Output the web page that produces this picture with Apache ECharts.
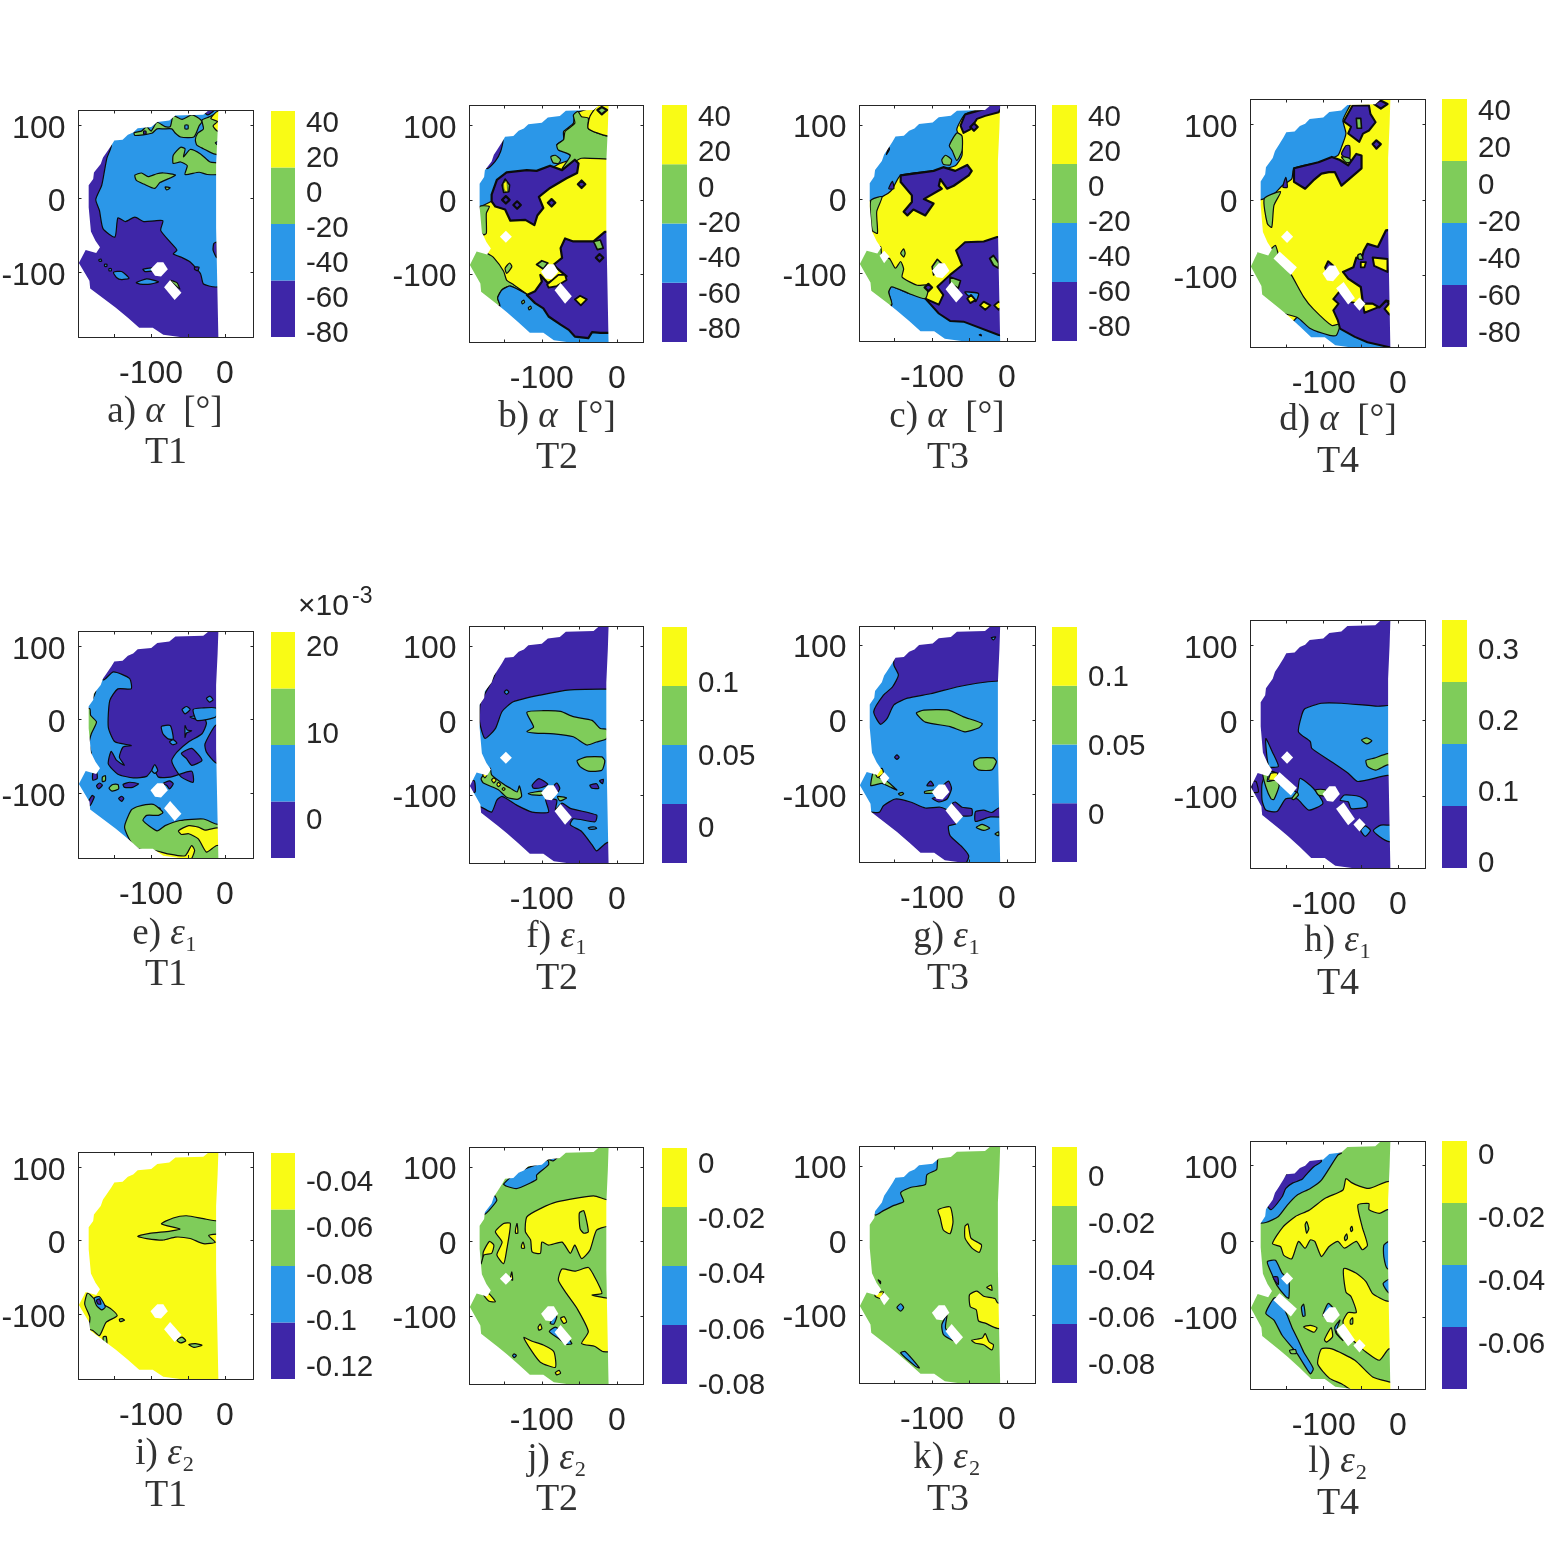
<!DOCTYPE html>
<html><head><meta charset="utf-8">
<style>html,body{margin:0;background:#fff}#c{width:1563px;height:1563px}</style>
<script src="https://cdn.jsdelivr.net/npm/echarts@6/dist/echarts.min.js"></script></head>
<body><div id="c"></div><script>
const P=0,B=1,G=2,Y=3;
const levelColors=['#3E26A8','#2B97E8','#7FCC5A','#F9FB15'];
const xTicks=[-150,-100,-50,0], xLabels=[-100,0], yTicks=[-100,0,100];

// limb of the measured field, degrees
const outlineLimb=[-11,127,-24,127,-31,121,-68,120,-76,113,-92,111,-100,104,-118,102,-124,96,-131,93,-138,86,-149,85,-153,78,-160,67,-164,61,-167,52,-176,40,-177,31,-183,22,-183,-9,-180,-43,-174,-56,-168,-65,-173,-73,-187,-69,-196,-87,-182,-112,-181,-123,-158,-141,-147,-150,-131,-164,-116,-178,-98,-178,-84,-188,-62,-191,-11,-191,-14,-38,-14,52,-12,96];
// data gaps, degrees
const gapHex=[-101,-96,-92,-86,-84,-86,-78,-96,-87,-106,-95,-105];
const gapRect=[-83,-121,-75,-111,-60,-129,-69,-139];
const gapRectLong=[-83,-115,-73,-107,-58,-128,-67,-136];
const gapDiamond=[-156,-49,-148,-41,-140,-49,-148,-57];
const gapNotch=[-170,-76,-164,-69,-157,-77,-164,-86];
const gapLeftLong=[-166,-77,-158,-68,-135,-88,-143,-98];
const gapSmall=[-60,-135,-52,-127,-44,-135,-52,-144];

const regionsA=[
[P,[-154,75,-160,55,-163,39,-167,18,-175,-1,-170,-16,-165,-41,-149,-52,-145,-26,-135,-31,-122,-25,-110,-31,-95,-30,-84,-30,-87,-43,-74,-59,-65,-70,-70,-75,-58,-80,-47,-86,-33,-102,-29,-116,-13,-120,21,-120,21,-200,-205,-200,-205,75]],
[B,[-151,-100,-140,-99,-130,-108,-140,-110,-147,-107]],
[B,[-120,-114,-106,-109,-90,-113,-101,-116,-115,-116]],
[B,[-111,-96,-99,-94,-98,-98,-108,-99]],
[B,[-171,-83,-168,-82,-167,-85,-170,-85]],
[B,[-163,-89,-160,-89,-160,-92,-163,-92]],
[B,[-157,-95,-154,-95,-154,-98,-157,-98]],
[P,[-41,-93,-35,-93,-37,-98,-41,-96]],
[P,[-15,-61,-11,-59,-11,-80,-16,-70]],
[G,[-122,32,-113,35,-104,30,-92,34,-83,35,-67,32,-88,22,-95,14,-110,20,-120,25]],
[G,[-81,16,-74,15,-79,12]],
[G,[-70,59,-60,70,-54,68,-56,57,-47,67,-33,61,-20,50,-6,48,-6,34,-24,33,-35,36,-54,33,-51,45,-60,50,-70,48]],
[G,[-123,90,-113,92,-106,98,-100,92,-92,104,-81,98,-74,98,-70,113,-58,108,-45,114,-38,111,-31,105,-35,99,-42,84,-60,84,-67,89,-72,95,-83,95,-92,95,-99,89,-122,86]],
[G,[-40,80,-37,89,-29,95,-31,107,-22,111,-10,116,8,116,8,59,-15,61,-29,68,-38,73]],
[B,[-13,76,-9,78,-9,73]],
[B,[-54,100,-50,100,-50,95,-54,95]],
[P,[-110,92,-107,92,-107,88,-110,88]],
[Y,[-19,109,-10,119,8,119,8,92,-10,92,-16,99,-10,105]],
[P,[-29,119,-15,120,-23,114]],
[G,[-74,-111,-65,-114,-61,-123,-68,-117]]];

const regionsB=[
[B,[-196,-13,-182,-9,-167,-2,-76,49,-58,56,-80,74,-71,81,-71,92,-58,103,-56,116,-38,123,-31,132,-76,141,-209,141,-209,-13]],
[P,[-152,81,-155,65,-162,52,-173,42,-182,52,-164,78]],
[G,[-58,114,-52,119,-47,112,-38,110,-38,96,-13,86,13,86,13,56,-47,56,-60,49,-73,42,-62,60,-78,67,-80,74,-71,81,-69,92,-56,103]],
[Y,[-36,112,-29,123,-24,130,13,130,13,86,-13,86,-38,96]],
[G,[-26,121,-20,125,-13,121,-20,115],2.2],
[G,[-88,58,-82,60,-75,54,-78,49,-85,50]],
[P,[-167,-2,-167,7,-160,27,-147,37,-120,40,-107,39,-89,46,-73,40,-56,54,-51,49,-53,36,-67,29,-89,16,-104,4,-98,-11,-106,-21,-110,-34,-122,-27,-142,-28,-149,-13,-162,-9],2.2],
[G,[-153,20,-149,28,-143,20,-144,11,-151,10],1.6],
[Y,[-151,22,-147,25,-146,11,-150,13],0.5],
[P,[-153,0,-148,5,-143,0,-148,-5],2.2],
[P,[-138,-7,-133,-2,-128,-7,-133,-12],2.2],
[P,[-92,-4,-87,1,-82,-4,-87,-9],2.2],
[P,[-52,21,-47,26,-42,21,-47,16],2.2],
[G,[-183,-9,-170,-9,-174,-18,-174,-45,-178,-47,-186,-38]],
[G,[-209,-87,-187,-65,-173,-72,-164,-78,-151,-96,-147,-108,-138,-114,-120,-127,-142,-116,-153,-121,-159,-132,-156,-142,-182,-146,-209,-128]],
[G,[-149,-92,-143,-85,-140,-90,-147,-99]],
[B,[-156,-142,-159,-132,-153,-121,-142,-116,-120,-127,-118,-130,-75,-160,-58,-170,13,-170,13,-208,-75,-208,-164,-208]],
[P,[-120,-128,-109,-123,-100,-110,-102,-101,-92,-112,-71,-101,-67,-103,-80,-92,-84,-87,-73,-78,-75,-65,-69,-52,-58,-56,-31,-56,-16,-43,13,-43,13,-181,-11,-179,-22,-179,-33,-178,-38,-186,-56,-184,-64,-175,-75,-168,-91,-157,-98,-146,-109,-139],2.2],
[Y,[-93,-114,-78,-101,-69,-101,-67,-108,-80,-116,-91,-118],1.8],
[G,[-31,-56,-22,-54,-18,-65,-26,-67],1.6],
[Y,[-56,-134,-49,-129,-40,-134,-48,-142],1.8],
[G,[-107,-87,-100,-82,-92,-85,-98,-93],1.8],
[P,[-28,-78,-23,-73,-18,-78,-23,-83],2.2],
[G,[-127,-137,-124,-135,-123,-138,-126,-140]],
[G,[-118,-145,-115,-143,-114,-146,-117,-148]]];

const regionsC=[
[B,[-209,-4,-182,-2,-167,3,-154,12,-142,32,-98,38,-69,45,-60,59,-62,81,-67,94,-56,114,-31,123,-22,130,-76,139,-209,139]],
[P,[-62,99,-56,114,-31,121,-22,128,-4,128,-11,117,-29,112,-40,108,-49,94,-58,89],2],
[P,[-49,97,-44,102,-39,97,-44,92],2.2],
[G,[-77,72,-67,89,-60,85,-60,65,-67,52,-73,65]],
[G,[-87,53,-82,59,-74,53,-76,46,-85,47]],
[P,[-157,67,-161,60,-158,70]],
[P,[-142,32,-98,38,-85,43,-69,38,-53,46,-47,38,-51,32,-71,18,-80,14,-89,27,-91,18,-87,14,-111,0,-98,-6,-109,-22,-125,-14,-133,-22,-138,-17,-127,-4,-127,5,-142,23],2.2],
[P,[-158,14,-153,24,-151,14]],
[G,[-182,-2,-167,3,-174,-17,-173,-46,-180,-42]],
[B,[-154,-142,-158,-125,-154,-118,-131,-127,-109,-134,-76,-158,-11,-172,-4,-172,-4,-201,-76,-210,-165,-210]],
[G,[-209,-87,-187,-67,-169,-64,-167,-78,-157,-80,-149,-93,-142,-84,-138,-94,-140,-105,-120,-116,-105,-116,-109,-134,-131,-127,-154,-118,-158,-125,-154,-142,-182,-147,-209,-129]],
[G,[-142,-73,-138,-67,-136,-73,-138,-78]],
[P,[-109,-134,-91,-142,-85,-129,-93,-118,-76,-102,-60,-89,-68,-69,-56,-58,-31,-57,-13,-51,0,-51,0,-185,-11,-183,-58,-165,-76,-164,-91,-154],2],
[G,[-23,-80,-18,-76,-11,-86,-11,-93,-18,-89],1.8],
[B,[-56,-125,-38,-127,-42,-138,-53,-129],1.4],
[Y,[-53,-134,-48,-129,-42,-136,-49,-140],1.8],
[Y,[-36,-143,-31,-138,-22,-143,-29,-149],1.8],
[Y,[-17,-143,-11,-138,-4,-143,-11,-149],1.8],
[G,[-76,-105,-62,-110,-65,-120,-76,-113],1.6],
[P,[-110,-119,-105,-114,-100,-119,-105,-124],2.2],
[G,[-100,-91,-93,-81,-85,-89,-98,-102],1.6],
[P,[-37,-183,-35,-182,-34,-184]]];

const regionsD=[
[B,[-209,-3,-180,2,-167,8,-156,19,-143,28,-140,42,-107,50,-81,59,-76,70,-70,88,-74,106,-63,128,-58,141,-209,145]],
[P,[-61,125,-39,125,-37,114,-30,103,-39,92,-47,88,-52,77,-67,88,-63,97,-73,104],2],
[G,[-56,108,-50,108,-49,95,-55,95],1.6],
[P,[-32,127,-24,132,-14,127,-23,121],2.2],
[P,[-34,74,-29,79,-23,74,-29,68],2.2],
[P,[-76,61,-70,72,-65,72,-65,55,-72,57]],
[G,[-76,57,-70,50,-63,50,-65,55,-72,57]],
[P,[-140,42,-107,50,-89,57,-78,53,-67,46,-56,61,-49,59,-49,42,-76,19,-85,37,-93,37,-103,35,-114,26,-125,15,-140,24],2.2],
[P,[-155,17,-151,30,-149,17]],
[G,[-180,2,-158,11,-167,-7,-170,-36,-176,-31]],
[B,[-136,-155,-118,-168,-85,-172,-78,-165,-5,-165,-5,-210,-165,-210]],
[G,[-209,-84,-187,-67,-174,-67,-165,-60,-160,-75,-143,-100,-127,-128,-114,-144,-89,-166,-78,-164,-83,-179,-92,-179,-118,-170,-136,-155,-184,-142,-209,-120]],
[P,[-87,-146,-80,-137,-87,-131,-78,-120,-63,-135,-47,-138,-45,-149,-27,-142,-16,-133,-12,-137,-18,-144,-12,-151,-5,-155,-5,-197,-10,-195,-41,-188,-58,-181,-78,-170,-81,-159],2],
[P,[-74,-95,-60,-89,-56,-76,-49,-78,-46,-67,-41,-58,-27,-62,-16,-40,0,-38,0,-137,-16,-133,-25,-142,-34,-137,-47,-137,-50,-115,-67,-104],2.2],
[Y,[-34,-76,-14,-78,-14,-95,-32,-87],2],
[G,[-54,-73,-50,-71,-47,-78,-53,-78],1.4],
[Y,[-50,-82,-43,-82,-45,-89,-50,-89],1.8],
[P,[-98,-89,-94,-81,-87,-87,-96,-95],2]];

const regionsE=[
[P,[-151,65,-129,56,-127,42,-145,42,-156,26,-158,-10,-149,-30,-127,-35,-138,-37,-143,-51,-136,-62,-147,-55,-154,-43,-158,-60,-145,-74,-124,-79,-106,-77,-97,-67,-90,-78,-74,-78,-45,-70,-43,-85,-59,-78,-69,-64,-72,-55,-65,-44,-49,-30,-31,-19,-25,-5,-29,4,-36,0,-47,4,-12,10,16,17,16,135,-152,135,-170,81,-165,54]],
[B,[-43,14,-31,16,-12,16,-12,4,-38,-1]],
[B,[-58,14,-52,18,-47,14,-54,8]],
[B,[-86,-9,-74,-8,-70,-26,-77,-26,-84,-19]],
[B,[-75,-30,-70,-27,-65,-32,-71,-34]],
[B,[-25,29,-20,32,-16,27,-21,24]],
[B,[-99,-69,-95,-61,-91,-69,-95,-73]],
[B,[-54,-23,-54,-8,-51,-14,-45,-15,-52,-18,-54,-24]],
[P,[-59,-46,-45,-39,-31,-55,-45,-62,-52,-53]],
[P,[-27,-33,-13,-8,-1,-5,-1,-60,-13,-58,-25,-44]],
[G,[-197,15,-183,15,-182,6,-174,-3,-181,-19,-184,-33,-181,-49,-197,-49]],
[G,[-180,29,-177,40,-175,39,-179,29]],
[P,[-179,-73,-174,-71,-173,-80,-179,-82]],
[G,[-166,-78,-162,-76,-162,-83,-166,-84]],
[P,[-174,-90,-170,-86,-166,-89,-171,-94]],
[G,[-157,-93,-152,-88,-145,-88,-144,-94,-153,-97]],
[P,[-138,-88,-129,-85,-117,-87,-125,-92,-136,-92]],
[P,[-144,-107,-140,-104,-137,-107,-140,-111]],
[P,[-186,-112,-180,-103,-177,-105,-183,-117,-188,-110]],
[P,[-84,-87,-75,-83,-70,-87,-75,-94,-79,-89]],
[P,[-97,-120,-88,-120,-88,-122]],
[G,[-127,-123,-118,-118,-97,-115,-84,-126,-90,-130,-106,-130,-111,-137,-92,-151,-81,-144,-61,-137,-29,-135,-11,-142,16,-142,16,-192,-52,-192,-97,-178,-116,-176,-127,-167,-136,-146]],
[Y,[-63,-151,-49,-144,-36,-146,-27,-150,-11,-147,16,-147,16,-171,-11,-171,-25,-180,-36,-162,-49,-155,-59,-156]],
[Y,[-97,-178,-79,-182,-54,-185,-45,-171,-41,-178,-48,-192,-97,-192]]];

const regionsF=[
[P,[-162,64,-171,45,-182,23,-183,-2,-176,-24,-162,-11,-153,12,-138,25,-102,34,-62,41,-13,42,13,42,13,141,-164,141]],
[B,[-150,38,-147,41,-144,38,-147,35]],
[G,[-120,11,-98,13,-75,12,-58,5,-33,0,-22,-11,-13,-12,-13,-24,-27,-29,-40,-33,-58,-22,-84,-18,-109,-17,-120,-15,-111,-9]],
[G,[-53,-54,-40,-49,-20,-49,-16,-54,-20,-67,-38,-68,-49,-62]],
[G,[-181,-78,-169,-64,-167,-73,-149,-87,-142,-91,-133,-96,-130,-88,-127,-102,-133,-106,-147,-103,-158,-93,-178,-84]],
[Y,[-179,-73,-176,-71,-173,-73,-176,-77]],
[Y,[-167,-80,-164,-77,-161,-80,-164,-84]],
[Y,[-160,-86,-158,-83,-155,-86,-158,-89]],
[Y,[-153,-92,-151,-90,-149,-92,-151,-94]],
[P,[-196,-82,-190,-81,-189,-96,-196,-96]],
[P,[-182,-116,-167,-123,-160,-107,-153,-102,-133,-114,-113,-123,-91,-123,-95,-105,-80,-107,-82,-120,-73,-111,-62,-118,-27,-127,-29,-136,-58,-132,-62,-140,-47,-149,-33,-167,-27,-175,-13,-164,13,-164,13,-203,-209,-203,-209,-116]],
[B,[-38,-144,-29,-143,-27,-145,-36,-146]],
[P,[-113,-87,-104,-78,-92,-86,-100,-90,-111,-91]],
[P,[-84,-88,-80,-84,-76,-91,-80,-98]],
[G,[-118,-98,-100,-95,-98,-100,-113,-100]],
[G,[-79,-102,-67,-104,-76,-108]],
[P,[-36,-87,-27,-85,-24,-91,-33,-91]],
[P,[-23,-81,-18,-79,-19,-85]]];

const regionsG=[
[P,[-151,73,-145,60,-153,44,-165,33,-178,11,-169,-6,-160,2,-151,20,-133,29,-102,35,-67,44,-40,49,-11,52,13,52,13,140,-147,140,-151,85]],
[B,[-21,110,-15,111,-18,107]],
[G,[-121,9,-111,13,-78,13,-58,4,-33,-5,-38,-11,-56,-16,-76,-9,-109,-3]],
[G,[-44,-55,-36,-51,-18,-51,-14,-56,-20,-67,-38,-67,-44,-61]],
[P,[-150,-50,-147,-47,-144,-50,-147,-53]],
[G,[-182,-88,-178,-68,-172,-77,-162,-81,-147,-94,-156,-90,-167,-85,-176,-87]],
[Y,[-176,-70,-167,-65,-165,-72,-173,-77]],
[G,[-145,-99,-140,-97,-138,-99,-142,-101]],
[P,[-171,-124,-165,-115,-149,-106,-129,-110,-109,-118,-89,-117,-76,-123,-68,-139,-78,-142,-76,-155,-60,-170,-51,-182,-56,-193,-120,-204,-209,-204,-209,-124]],
[P,[-73,-112,-69,-110,-60,-117,-47,-119,-47,-128,-62,-128]],
[P,[-42,-123,-31,-121,-20,-124,-11,-118,13,-118,13,-130,-22,-130,-42,-136]],
[G,[-41,-144,-33,-140,-23,-145,-31,-148]],
[G,[-16,-153,-11,-150,-11,-155]],
[P,[-107,-88,-102,-82,-98,-88]],
[G,[-110,-96,-98,-94,-98,-98,-110,-98]],
[P,[-85,-88,-78,-82,-74,-92,-80,-106,-91,-110,-100,-105,-91,-103,-80,-96]]];

const regionsH=[
[B,[-129,9,-125,16,-103,23,-76,23,-27,19,-14,20,12,20,12,-75,-14,-73,-54,-81,-67,-70,-89,-55,-116,-37,-118,-28,-134,-15]],
[G,[-49,-26,-42,-23,-35,-27,-42,-31]],
[G,[-43,-53,-32,-50,-14,-44,12,-44,12,-59,-14,-59,-30,-66,-41,-61]],
[B,[-183,-84,-176,-67,-165,-69,-160,-77,-136,-95,-132,-77,-114,-90,-101,-110,-120,-119,-136,-104,-151,-104,-163,-121,-178,-119,-183,-106]],
[G,[-182,-70,-174,-69,-176,-81,-165,-79,-160,-86,-167,-105,-171,-104,-178,-88]],
[Y,[-174,-79,-171,-70,-162,-70,-165,-79]],
[P,[-196,-81,-191,-81,-188,-95,-196,-95]],
[G,[-111,-92,-98,-92,-97,-100,-107,-99]],
[G,[-143,-104,-136,-95,-134,-99,-140,-105]],
[B,[-78,-106,-72,-99,-52,-101,-42,-108,-42,-115,-63,-117,-67,-108]],
[B,[-50,-146,-44,-140,-37,-146,-44,-154]],
[B,[-33,-146,-23,-139,-12,-139,12,-139,12,-161,-12,-161,-25,-154]],
[B,[-178,-24,-169,-42,-161,-61,-174,-61]]];

const regionsI=[
[G,[-118,6,-102,10,-74,13,-61,16,-86,23,-70,31,-52,34,-29,30,-11,27,16,27,16,9,-11,9,-22,7,-13,-2,-29,-4,-47,3,-67,5,-83,1,-106,3]],
[G,[-190,-86,-186,-71,-177,-79,-166,-86,-154,-93,-146,-102,-161,-111,-170,-129,-179,-122,-184,-120,-183,-104]],
[B,[-177,-78,-170,-76,-162,-90,-167,-94,-174,-88]],
[P,[-174,-81,-170,-79,-168,-86,-172,-86]],
[G,[-143,-107,-139,-106,-136,-108,-142,-110]],
[G,[-65,-135,-58,-131,-53,-136,-60,-139]],
[G,[-49,-141,-40,-140,-31,-142,-42,-145]],
[G,[-165,-131,-161,-130,-160,-140,-164,-142]]];

const regionsJ=[
[B,[-151,77,-133,93,-102,105,-92,109,-91,103,-107,89,-107,83,-133,71,-147,74]],
[B,[-91,110,-80,112,-85,108]],
[B,[-182,38,-164,62,-160,55,-171,41,-177,36]],
[Y,[-120,33,-102,44,-80,53,-31,61,-13,56,13,56,13,20,-13,20,-27,15,-36,-12,-47,-23,-56,-5,-62,-16,-73,-1,-91,-5,-100,-1,-102,-16,-113,-14,-115,2,-122,13]],
[G,[-50,38,-44,41,-38,13,-44,11,-49,17]],
[Y,[-162,13,-151,24,-142,24,-147,-12,-151,-30,-160,-18,-153,-1]],
[Y,[-135,17,-133,24,-132,11,-135,11]],
[Y,[-127,-5,-125,-1,-123,-9,-127,-9]],
[Y,[-179,-23,-178,-14,-170,0,-164,-5,-167,-16,-177,-18,-181,-30]],
[Y,[-142,-50,-140,-41,-139,-52]],
[Y,[-178,-71,-171,-70,-162,-81,-171,-80]],
[Y,[-78,-52,-73,-37,-56,-40,-38,-35,-31,-45,-22,-63,-20,-70,-33,-72,-13,-76,13,-76,13,-144,-18,-148,-29,-141,-47,-137,-38,-121,-53,-90,-67,-70]],
[Y,[-75,-103,-70,-101,-67,-108,-71,-110]],
[Y,[-105,-115,-102,-111,-100,-117,-104,-119]],
[Y,[-124,-129,-113,-134,-98,-139,-84,-148,-82,-169,-102,-162,-113,-148]],
[Y,[-82,-176,-77,-173,-75,-177,-80,-179]],
[B,[-90,-121,-82,-115,-73,-121,-60,-137,-67,-138,-78,-130]],
[B,[-89,-110,-82,-99,-80,-101,-84,-111]],
[B,[-139,-153,-137,-151,-134,-153,-137,-156]]];

const regionsK=[
[B,[-176,34,-191,52,-156,102,-120,115,-93,111,-93,104,-94,95,-107,88,-109,75,-129,71,-142,64,-138,52,-151,47,-165,40]],
[Y,[-92,41,-76,45,-72,25,-76,9,-85,14,-89,30]],
[Y,[-56,19,-52,22,-48,3,-34,-6,-37,-16,-47,-10,-56,3]],
[Y,[-27,-63,-21,-60,-20,-67,-24,-65]],
[Y,[-50,-73,-40,-68,-31,-75,-16,-78,-12,-84,13,-84,13,-118,-13,-118,-29,-111,-38,-108,-41,-93,-49,-89]],
[Y,[-47,-134,-33,-131,-29,-125,-24,-136,-18,-140,-20,-147,-31,-140,-42,-138]],
[Y,[-176,-71,-165,-69,-169,-78,-176,-75]],
[B,[-147,-90,-142,-85,-138,-90,-142,-95]],
[B,[-87,-113,-80,-100,-82,-118,-67,-135,-73,-134,-85,-126]],
[B,[-142,-151,-136,-149,-117,-171,-122,-169]],
[B,[-172,-53,-169,-55,-169,-58]]];

const regionsL=[
[B,[-178,25,-161,33,-149,48,-136,61,-118,70,-103,81,-81,114,-76,117,-120,126,-182,60,-191,25]],
[P,[-171,42,-156,59,-151,70,-142,77,-129,82,-122,90,-113,99,-103,106,-112,117,-182,60]],
[Y,[-169,-3,-155,19,-138,33,-120,41,-98,57,-74,68,-70,83,-63,78,-52,73,-39,70,-14,79,12,79,12,44,-14,42,-25,37,-39,42,-39,50,-54,48,-48,19,-41,-5,-48,-11,-56,0,-72,-9,-81,0,-93,-7,-103,-20,-112,0,-118,2,-125,-9,-134,0,-143,-23,-154,-18,-158,-7]],
[G,[-125,22,-123,26,-120,17,-123,11]],
[G,[-64,17,-62,20,-61,15,-63,13]],
[G,[-72,5,-69,10,-68,4,-71,1]],
[Y,[-73,-36,-56,-42,-43,-53,-34,-69,-14,-79,12,-79,12,-142,-12,-142,-25,-157,-43,-146,-56,-135,-67,-124,-74,-106,-67,-94,-56,-94,-63,-73,-70,-67]],
[G,[-64,-104,-61,-101,-61,-109,-64,-109]],
[Y,[-108,-162,-103,-142,-89,-142,-58,-157,-34,-179,-10,-186,12,-192,12,-201,-54,-201,-76,-188,-92,-181]],
[Y,[-127,-113,-118,-111,-109,-114,-113,-120]],
[Y,[-99,-130,-90,-114,-88,-126,-96,-133]],
[B,[-178,-95,-167,-75,-160,-75,-149,-98,-143,-113,-134,-131,-127,-146,-114,-168,-118,-175,-136,-148,-156,-124,-167,-104]],
[B,[-176,-27,-165,-25,-156,-42,-147,-51,-147,-75,-151,-73,-163,-58,-169,-45]],
[P,[-168,-47,-162,-47,-161,-57,-165,-53]],
[B,[-130,-87,-127,-83,-125,-98,-128,-99]],
[B,[-101,-98,-94,-82,-87,-89,-96,-100]],
[B,[-85,-113,-78,-104,-83,-120,-74,-131,-83,-122]],
[B,[-19,-5,-12,0,12,0,12,-36,-14,-36,-19,-20]],
[B,[-20,-56,-12,-50,12,-50,12,-68,-12,-68]],
[G,[-146,-144,-138,-143,-137,-148,-144,-148]]];

const panels=[
 {cap:'a) {i|α}  [°]',t:'T1',base:B,regions:regionsA,gaps:[gapHex,gapRect],ylim:[-188,120],xlim:[-198.4,38.8],box:[78.5,110.5,175,226.5],capXY:[165,412,166,453],
  bar:[271,111,24,226],barLim:[-82.9,46.3],barTicks:[40,20,0,-20,-40,-60,-80]},
 {cap:'b) {i|α}  [°]',t:'T2',base:Y,regions:regionsB,gaps:[gapHex,gapRect,gapDiamond],ylim:[-192,127],xlim:[-196.5,35.6],box:[469.5,105.5,174,237],capXY:[557,417,557,458],
  bar:[662,105,25,237],barLim:[-87.9,46.2],barTicks:[40,20,0,-20,-40,-60,-80]},
 {cap:'c) {i|α}  [°]',t:'T3',base:Y,regions:regionsC,gaps:[gapHex,gapRect,gapNotch],ylim:[-191,126],xlim:[-197,38.2],box:[859.5,105.5,176,235.5],capXY:[947,417,948,458],
  bar:[1052,105,25,236],barLim:[-88.6,46.3],barTicks:[40,20,0,-20,-40,-60,-80]},
 {cap:'d) {i|α}  [°]',t:'T4',base:Y,regions:regionsD,gaps:[gapHex,gapRectLong,gapDiamond,gapLeftLong,gapSmall],ylim:[-195,133],xlim:[-198.6,37.2],box:[1250.5,99.5,175,248],capXY:[1338,420,1338,462],
  bar:[1442,99,25,248],barLim:[-88.1,45.9],barTicks:[40,20,0,-20,-40,-60,-80]},
 {cap:'e) {i|ε}₁',t:'T1',base:B,regions:regionsE,gaps:[gapHex,gapRect],ylim:[-188,120],xlim:[-198.4,38.8],box:[78.5,631.5,175,226.5],capXY:[165,934,166,975],
  bar:[271,632,24,226],barLim:[-4.5,21.6],barTicks:[20,10,0]},
 {cap:'f) {i|ε}₁',t:'T2',base:B,regions:regionsF,gaps:[gapHex,gapRect,gapDiamond],ylim:[-192,126],xlim:[-196.5,35.6],box:[469.5,626.5,174,237],capXY:[557,937,557,979],
  bar:[662,627,25,236],barLim:[-0.0248,0.1379],barTicks:[0.1,0.05,0]},
 {cap:'g) {i|ε}₁',t:'T3',base:B,regions:regionsG,gaps:[gapHex,gapRect,gapNotch],ylim:[-191,125],xlim:[-197,38.2],box:[859.5,626.5,176,236],capXY:[947,937,948,979],
  bar:[1052,627,25,235],barLim:[-0.0348,0.1355],barTicks:[0.1,0.05,0]},
 {cap:'h) {i|ε}₁',t:'T4',base:P,regions:regionsH,gaps:[gapHex,gapRectLong,gapDiamond,gapLeftLong,gapSmall],ylim:[-196,133],xlim:[-198.6,37.2],box:[1250.5,620.5,175,247.5],capXY:[1338,941,1338,984],
  bar:[1442,620,25,248],barLim:[-0.0085,0.3408],barTicks:[0.3,0.2,0.1,0]},
 {cap:'i) {i|ε}₂',t:'T1',base:Y,regions:regionsI,gaps:[gapHex,gapRect],ylim:[-188,120],xlim:[-198.4,38.8],box:[78.5,1152.5,175,226.5],capXY:[165,1454,166,1496],
  bar:[271,1153,24,226],barLim:[-0.1256,-0.0279],barTicks:[-0.04,-0.06,-0.08,-0.1,-0.12]},
 {cap:'j) {i|ε}₂',t:'T2',base:G,regions:regionsJ,gaps:[gapHex,gapRect,gapDiamond],ylim:[-192,126],xlim:[-196.5,35.6],box:[469.5,1147.5,174,237],capXY:[557,1459,557,1500],
  bar:[662,1148,25,236],barLim:[-0.0801,0.0054],barTicks:[0,-0.02,-0.04,-0.06,-0.08]},
 {cap:'k) {i|ε}₂',t:'T3',base:G,regions:regionsK,gaps:[gapHex,gapRect,gapNotch],ylim:[-192,126],xlim:[-197,38.2],box:[859.5,1146.5,176,237],capXY:[947,1458,948,1500],
  bar:[1052,1147,25,236],barLim:[-0.0881,0.0123],barTicks:[0,-0.02,-0.04,-0.06,-0.08]},
 {cap:'l) {i|ε}₂',t:'T4',base:G,regions:regionsL,gaps:[gapHex,gapRectLong,gapDiamond,gapLeftLong,gapSmall],ylim:[-195,132],xlim:[-198.6,37.2],box:[1250.5,1141.5,175,247.5],capXY:[1338,1462,1338,1504],
  bar:[1442,1141,25,248],barLim:[-0.0746,0.0041],barTicks:[0,-0.02,-0.04,-0.06]}
];

const INK='#262626', AXF='"Liberation Sans",Arial,sans-serif', SERIF='"Liberation Serif","Times New Roman",serif';
const grid=[],xAxis=[],yAxis=[],series=[],graphic=[];
const refTop=127,refBottom=-191,refLeft=-196.5,refRight=35.6;

panels.forEach(p=>{
  const fit=(arr)=>{const o=[];for(let i=0;i<arr.length;i+=2){
    o.push([p.xlim[0]+(arr[i]-refLeft)/(refRight-refLeft)*(p.xlim[1]-p.xlim[0]),
            p.ylim[0]+(arr[i+1]-refBottom)/(refTop-refBottom)*(p.ylim[1]-p.ylim[0])]);}return o;};
  const pairs=(arr)=>{const o=[];for(let i=0;i<arr.length;i+=2)o.push([arr[i],arr[i+1]]);return o;};
  const [x0,x1]=p.xlim,[y0,y1]=p.ylim;
  const shapes=[{pts:[[x0,y1],[x1,y1],[x1,y0],[x0,y0]],fill:levelColors[p.base],lw:0,sm:0}];
  p.regions.forEach(r=>{const lw=r[2]||1.2;shapes.push({pts:pairs(r[1]),fill:levelColors[r[0]],lw,sm:lw<1.5?0.2:0});});
  p.gaps.forEach(g=>shapes.push({pts:fit(g),fill:'#fff',lw:0,sm:0}));
  const limb=fit(outlineLimb);
  shapes.push({pts:[[x1,y1],[x1,y0],[x0,y0],[x0,y1],[x1,y1]].concat(limb,[limb[0]]),fill:'#fff',lw:0,sm:0});

  const gi=grid.length;
  grid.push({left:p.box[0],top:p.box[1],width:p.box[2],height:p.box[3],containLabel:false,outerBoundsMode:'none'});
  const ax={min:x0,max:x1,type:'value',gridIndex:gi,z:10,splitLine:{show:false},
    axisLine:{show:true,onZero:false,lineStyle:{color:INK,width:1}},
    axisTick:{show:true,inside:true,length:3,customValues:xTicks,lineStyle:{color:INK}}};
  const ay={min:y0,max:y1,type:'value',gridIndex:gi,z:10,splitLine:{show:false},
    axisLine:{show:true,onZero:false,lineStyle:{color:INK,width:1}},
    axisTick:{show:true,inside:true,length:3,customValues:yTicks,lineStyle:{color:INK}}};
  const xi=xAxis.length,yi=yAxis.length;
  xAxis.push(Object.assign({},ax,{position:'bottom',axisLabel:{show:true,customValues:xLabels,margin:21,fontSize:32,fontFamily:AXF,color:INK}}));
  xAxis.push(Object.assign({},ax,{position:'top',axisLabel:{show:false}}));
  yAxis.push(Object.assign({},ay,{position:'left',axisLabel:{show:true,customValues:yTicks,margin:13,fontSize:32,fontFamily:AXF,color:INK,lineHeight:7,formatter:v=>'\n'+v}}));
  yAxis.push(Object.assign({},ay,{position:'right',axisLabel:{show:false}}));
  series.push({type:'custom',coordinateSystem:'cartesian2d',xAxisIndex:xi,yAxisIndex:yi,clip:true,silent:true,animation:false,
    data:shapes.map((s,i)=>[i,0]),encode:{x:0,y:1},z:2,
    renderItem:(params,api)=>{const s=shapes[api.value(0)];
      return {type:'polygon',shape:{points:s.pts.map(q=>api.coord(q)),smooth:s.sm},
        style:{fill:s.fill,stroke:s.lw?'#0b0b0b':null,lineWidth:s.lw,lineJoin:'round'}};}});

  // colour bar
  const gb=grid.length;
  grid.push({left:p.bar[0],top:p.bar[1],width:p.bar[2],height:p.bar[3],outerBoundsMode:'none'});
  const xb=xAxis.length,yb=yAxis.length;
  xAxis.push({type:'value',gridIndex:gb,min:0,max:1,show:false});
  yAxis.push({type:'value',gridIndex:gb,position:'right',min:p.barLim[0],max:p.barLim[1],splitLine:{show:false},
    axisLine:{show:false,onZero:false},axisTick:{show:false},
    axisLabel:{show:true,customValues:p.barTicks,margin:11,fontSize:29.5,fontFamily:AXF,color:INK,lineHeight:4,formatter:v=>'\n'+String(v)}});
  const st=(p.barLim[1]-p.barLim[0])/4;
  const bands=[0,1,2,3].map(i=>[i,p.barLim[0]+i*st,p.barLim[0]+(i+1)*st]);
  series.push({type:'custom',coordinateSystem:'cartesian2d',xAxisIndex:xb,yAxisIndex:yb,silent:true,animation:false,
    data:bands,encode:{x:0,y:1},
    renderItem:(params,api)=>{const a=api.coord([0,api.value(2)]),b=api.coord([1,api.value(1)]);
      return {type:'rect',shape:{x:a[0],y:a[1],width:b[0]-a[0],height:b[1]-a[1]},style:{fill:levelColors[api.value(0)]}};}});

  graphic.push({type:'text',silent:true,x:p.capXY[0],y:p.capXY[1],style:{text:p.cap,align:'center',verticalAlign:'middle',
    font:'37px '+SERIF,fill:'#333',rich:{i:{font:'italic 37px '+SERIF,fill:'#333'}}}});
  graphic.push({type:'text',silent:true,x:p.capXY[2],y:p.capXY[3],style:{text:p.t,align:'center',verticalAlign:'middle',font:'38px '+SERIF,fill:'#333'}});
});
graphic.push({type:'text',silent:true,x:298,y:607,style:{text:'×10',align:'left',verticalAlign:'middle',font:'30px '+AXF,fill:INK}});
graphic.push({type:'text',silent:true,x:352,y:597,style:{text:'-3',align:'left',verticalAlign:'middle',font:'23px '+AXF,fill:INK}});

const chart=echarts.init(document.getElementById('c'),null,{renderer:'canvas'});
chart.setOption({animation:false,backgroundColor:'#fff',grid,xAxis,yAxis,series,graphic});
</script></body></html>
